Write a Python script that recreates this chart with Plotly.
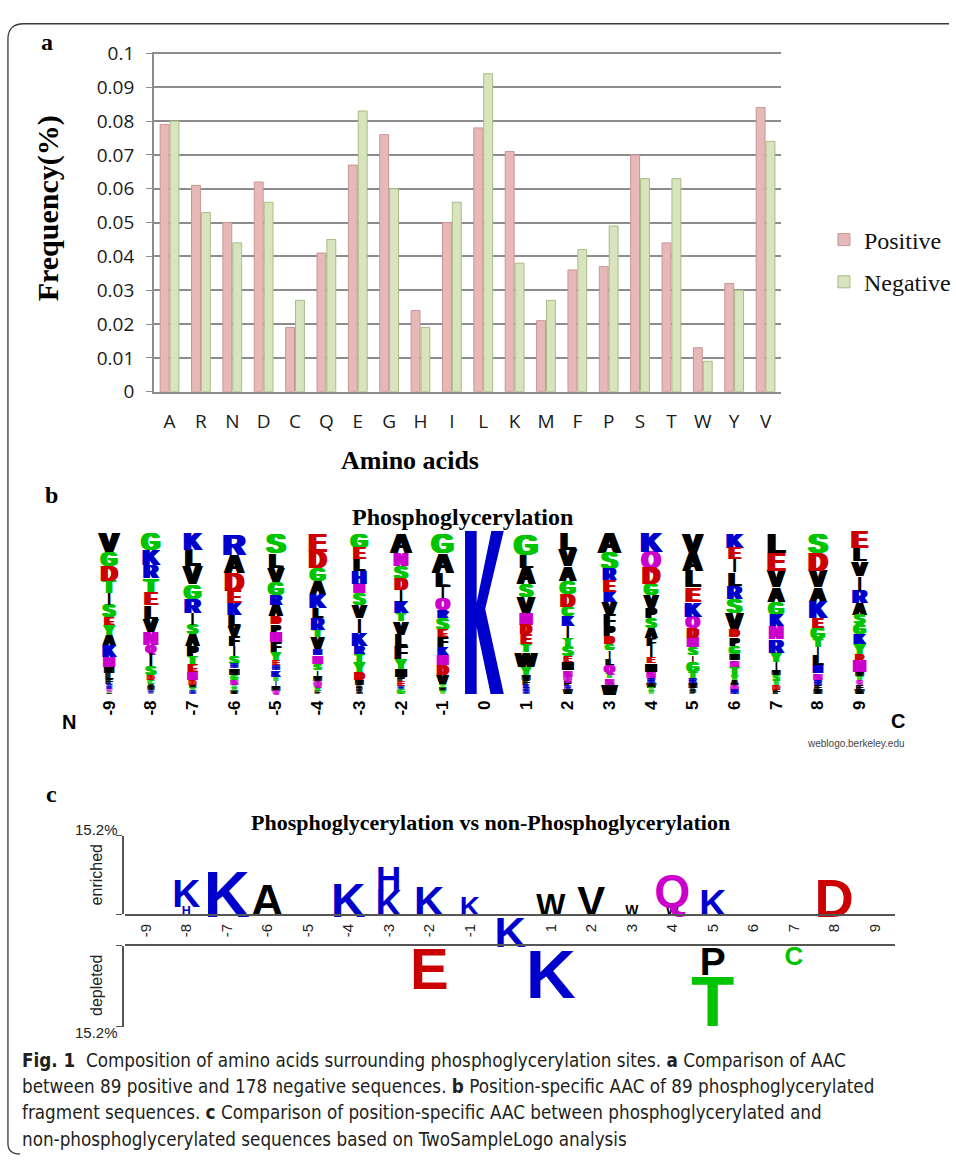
import plotly.graph_objects as go

W, H = 956, 1168


def fx(px):
    return px / W


def fy(py):
    return 1 - py / H


# ---------------- Panel a : amino acid composition ----------------
amino_acids = ["A", "R", "N", "D", "C", "Q", "E", "G", "H", "I",
               "L", "K", "M", "F", "P", "S", "T", "W", "Y", "V"]
positive_freq = [0.079, 0.061, 0.050, 0.062, 0.019, 0.041, 0.067, 0.076, 0.024, 0.050,
                 0.078, 0.071, 0.021, 0.036, 0.037, 0.070, 0.044, 0.013, 0.032, 0.084]
negative_freq = [0.080, 0.053, 0.044, 0.056, 0.027, 0.045, 0.083, 0.060, 0.019, 0.056,
                 0.094, 0.038, 0.027, 0.042, 0.049, 0.063, 0.063, 0.009, 0.030, 0.074]
freq_ticks = [0, 0.01, 0.02, 0.03, 0.04, 0.05, 0.06, 0.07, 0.08, 0.09, 0.1]
freq_tick_text = ["0", "0.01", "0.02", "0.03", "0.04", "0.05", "0.06", "0.07", "0.08", "0.09", "0.1"]

# ---------------- Panel b : frequency logo (letters listed top -> bottom) ----------------
logo_positions = list(range(-9, 10))
logo_tick_text = [str(p) for p in logo_positions]

col_m9_letters = "VGDTISEYAKNMLFHRQCW"
col_m9_freq = [.121, .087, .095, .075, .073, .075, .050, .061, .061, .071, .061, .040, .035, .030, .015, .015, .015, .010, .010]
col_m8_letters = "GKRTELVNQISDCAMHF"
col_m8_freq = [.100, .095, .081, .090, .077, .081, .081, .081, .048, .081, .056, .030, .025, .020, .020, .015, .010]
col_m7_letters = "KLVGRISAPTENDMYH"
col_m7_freq = [.10, .10, .11, .09, .09, .07, .06, .07, .06, .05, .05, .05, .03, .02, .02, .02]
col_m6_letters = "RADEKLVFISHMGNTYW"
col_m6_freq = [.13, .11, .11, .08, .07, .07, .06, .06, .06, .05, .03, .04, .03, .03, .02, .02, .02]
col_m5_letters = "SLVGRADPNFYEHKTIMQ"
col_m5_freq = [.12, .09, .09, .08, .06, .07, .05, .05, .06, .06, .05, .03, .03, .04, .03, .03, .03, .02]
col_m4_letters = "EDGAKLRTVHNSIMQYF"
col_m4_freq = [.11, .10, .08, .08, .09, .06, .07, .05, .07, .04, .05, .04, .04, .03, .03, .03, .02]
col_m3_letters = "GELHNSVIKRTYDMFPA"
col_m3_freq = [.09, .07, .07, .08, .06, .07, .08, .09, .08, .05, .05, .06, .05, .03, .02, .02, .02]
col_m2_letters = "ANSDIKTVLFYMPERG"
col_m2_freq = [.12, .08, .08, .07, .07, .07, .05, .08, .07, .08, .06, .05, .03, .03, .02, .03]
col_m1_letters = "GALIQRSEFKNDVTMY"
col_m1_freq = [.12, .12, .09, .07, .07, .05, .07, .05, .06, .05, .06, .06, .06, .02, .02, .02]
col_0_letters = "K"
col_0_freq = [1.0]
col_p1_letters = "GLASVNDETWYMFKRH"
col_p1_freq = [.13, .08, .10, .08, .10, .07, .06, .06, .05, .09, .05, .03, .03, .02, .02, .02]
col_p2_letters = "LVAGDCKITSEMNQPHW"
col_p2_freq = [.10, .10, .09, .08, .08, .06, .06, .07, .05, .06, .04, .05, .04, .03, .03, .02, .03]
col_p3_letters = "ASREKVFPDGILQTNW"
col_p3_freq = [.13, .10, .07, .07, .06, .08, .07, .06, .05, .04, .05, .04, .05, .03, .04, .06]
col_p4_letters = "KQDGVPSAFIEMNRWTY"
col_p4_freq = [.12, .10, .10, .07, .08, .06, .06, .06, .05, .07, .04, .05, .04, .03, .03, .02, .02]
col_p5_letters = "VALEKQDNSIGTRMFP"
col_p5_freq = [.12, .11, .10, .09, .09, .07, .06, .06, .05, .04, .06, .04, .03, .03, .02, .02]
col_p6_letters = "KEILRSVDPGMNTYAQH"
col_p6_freq = [.09, .07, .08, .08, .08, .09, .10, .05, .05, .05, .04, .04, .05, .03, .03, .03, .03]
col_p7_letters = "LEVAGKNRYIMSTDF"
col_p7_freq = [.12, .11, .10, .09, .08, .07, .08, .08, .06, .05, .03, .03, .03, .03, .03]
col_p8_letters = "SDVAKEGTILHNRFM"
col_p8_freq = [.12, .11, .10, .09, .10, .06, .07, .05, .05, .06, .05, .04, .03, .03, .03]
col_p9_letters = "ELVIRASGKYDNMTQFW"
col_p9_freq = [.10, .08, .09, .09, .08, .07, .06, .06, .06, .06, .04, .07, .03, .03, .02, .03, .03]

logo_letters = [col_m9_letters, col_m8_letters, col_m7_letters, col_m6_letters, col_m5_letters,
                col_m4_letters, col_m3_letters, col_m2_letters, col_m1_letters, col_0_letters,
                col_p1_letters, col_p2_letters, col_p3_letters, col_p4_letters, col_p5_letters,
                col_p6_letters, col_p7_letters, col_p8_letters, col_p9_letters]
logo_freqs = [col_m9_freq, col_m8_freq, col_m7_freq, col_m6_freq, col_m5_freq,
              col_m4_freq, col_m3_freq, col_m2_freq, col_m1_freq, col_0_freq,
              col_p1_freq, col_p2_freq, col_p3_freq, col_p4_freq, col_p5_freq,
              col_p6_freq, col_p7_freq, col_p8_freq, col_p9_freq]

# ---------------- Panel c : two-sample logo (percent) ----------------
c_positions = [p for p in range(-9, 10) if p != 0]
c_tick_text = [str(p) for p in c_positions]
enriched_pos = [-8, -8, -7, -6, -4, -3, -3, -2, -1, 1, 2, 3, 4, 4, 5, 8]      # bottom -> top
enriched_letter = ["H", "K", "K", "A", "K", "K", "H", "K", "K", "W", "V", "W", "W", "Q", "K", "D"]
enriched_pct = [1.7, 5.3, 8.7, 6.1, 6.5, 4.9, 4.75, 5.7, 3.8, 4.2, 5.7, 1.9, 1.9, 6.3, 5.1, 7.4]
depleted_pos = [-2, 1, 5, 5, 7]                                                    # top -> bottom
depleted_letter = ["E", "K", "P", "T", "C"]
depleted_pct = [7.6, 9.1, 5.1, 9.3, 3.4]
center_letter = "K"
center_pct = 5.9
scale_max = 15.2

# ---------------- styling ----------------
GREEN, BLUE, RED, MAG, BLK = "#00C400", "#0000CC", "#CC0000", "#CC00CC", "#000000"
AA_COLOR = {}
for a in "GSTYC":
    AA_COLOR[a] = GREEN
for a in "NQ":
    AA_COLOR[a] = MAG
for a in "KRH":
    AA_COLOR[a] = BLUE
for a in "DE":
    AA_COLOR[a] = RED
for a in "AVLIPWFM":
    AA_COLOR[a] = BLK
# approximate glyph advance (em) of Arial Bold capitals
ADV = dict(A=.722, C=.722, D=.722, E=.667, F=.611, G=.778, H=.722, I=.278, K=.722, L=.611,
           M=.833, N=.722, P=.667, Q=.778, R=.722, S=.667, T=.611, V=.667, W=.944, Y=.667)

ARIAL = "Liberation Sans, Arial, sans-serif"
TIMES = "Liberation Serif, Times New Roman, serif"
TICKF = "Open Sans, Liberation Sans, sans-serif"
CAP = 0.716  # cap height / font size

# geometry of axes (pixels)
A_X0, A_X1, A_Y0, A_Y1 = 155, 787, 388, 41
B_X0, B_X1, B_Y0, B_Y1 = 89, 887, 697, 530
C_X0, C_X1 = 126.4, 901.6
C_ENR_Y0, C_ENR_Y1 = 922, 842
C_DEP_Y0, C_DEP_Y1 = 954, 1037

fig = go.Figure()

# Panel a bars
fig.add_trace(go.Bar(x=amino_acids, y=positive_freq, name="Positive",
                     marker=dict(color="#E6B9B8", line=dict(color="#C99594", width=1)),
                     xaxis="x", yaxis="y", legendgroup="p"))
fig.add_trace(go.Bar(x=amino_acids, y=negative_freq, name="Negative",
                     marker=dict(color="#D7E4BD", line=dict(color="#A9BC85", width=1)),
                     xaxis="x", yaxis="y", legendgroup="n"))


def add_letters(items, xa, ya, target_w, max_widen):
    """items: (x, y_top, letter, font_px). Narrow letters get a slight same-colour
    horizontal text shadow so they fill a little more of the column."""
    groups = {}
    for x, y, letter, fs in items:
        gw = fs * ADV[letter] * 0.92
        s = 0 if letter == "I" else int(min(max_widen, round(max(0.0, (target_w - gw) / 6.0))))
        key = (AA_COLOR[letter], s)
        groups.setdefault(key, []).append((x, y, letter, max(fs, 1)))
    for (col, s), pts in groups.items():
        shadow = "none"
        if s > 0:
            shadow = ", ".join(f"{k}px 0 0 {col}, -{k}px 0 0 {col}" for k in range(1, s + 1))
        fig.add_trace(go.Scatter(
            x=[p[0] for p in pts], y=[p[1] for p in pts], text=[p[2] for p in pts],
            mode="text", textposition="bottom center",
            textfont=dict(family=ARIAL, size=[p[3] for p in pts], color=col,
                          weight="bold", shadow=shadow),
            xaxis=xa, yaxis=ya, showlegend=False, hoverinfo="skip", cliponaxis=False))


# Panel b letters
b_px_per_unit = (B_Y0 - B_Y1) / 1.0
b_col_px = (B_X1 - B_X0) / 19.0
b_items = []
shapes = []
K_GLYPH = [(0, 0), (0, 1), (0.3, 1), (0.3, 0.56), (0.68, 1), (1, 1), (0.52, 0.52),
           (1, 0), (0.66, 0), (0.34, 0.36), (0.3, 0.41), (0.3, 0)]
for pos, letters, freqs in zip(logo_positions, logo_letters, logo_freqs):
    cum = 0.0
    for letter, f in zip(reversed(letters), reversed(freqs)):
        top = cum + f
        fs = f * b_px_per_unit / CAP
        if letter == "K" and fs * 0.72 > b_col_px:
            w = 0.93
            pts = [(pos - w / 2 + u * w, cum + v * f) for u, v in K_GLYPH]
            path = "M " + " L ".join(f"{x:.4f},{y:.4f}" for x, y in pts) + " Z"
            shapes.append(dict(type="path", xref="x2", yref="y2", path=path,
                               fillcolor=AA_COLOR[letter], line=dict(width=0)))
        else:
            b_items.append((pos, top, letter, fs))
        cum = top
add_letters(b_items, "x2", "y2", 36, 2)

# Panel c enriched letters (stack upward) + central residue
c_enr_px = (C_ENR_Y0 - C_ENR_Y1) / scale_max
c_items = []
cum_pos = {}
for pos, letter, pct in zip(enriched_pos, enriched_letter, enriched_pct):
    top = cum_pos.get(pos, 0.0) + pct
    c_items.append((pos, top, letter, pct * c_enr_px / CAP))
    cum_pos[pos] = top
c_items.append((0, 0, center_letter, center_pct * c_enr_px / CAP))
add_letters(c_items, "x3", "y3", 36, 0)

# Panel c depleted letters (stack downward)
c_dep_px = (C_DEP_Y1 - C_DEP_Y0) / scale_max
d_items = []
cum_pos = {}
for pos, letter, pct in zip(depleted_pos, depleted_letter, depleted_pct):
    top = cum_pos.get(pos, 0.0)
    d_items.append((pos, top, letter, pct * c_dep_px / CAP))
    cum_pos[pos] = top + pct
add_letters(d_items, "x4", "y4", 36, 0)

# frame around the figure
frame = (f"M 1.0,{fy(12)} L {fx(24)},{fy(12)} Q {fx(8)},{fy(12)} {fx(8)},{fy(28)} "
         f"L {fx(8)},{fy(1156)} Q {fx(8)},{fy(1167)} {fx(20)},{fy(1167)}")
shapes.append(dict(type="path", xref="paper", yref="paper", path=frame,
                   line=dict(color="#3a3a3a", width=1.3)))

annotations = []


def ann(text, x, y, size, family=ARIAL, color="#000", angle=0, xanchor="center", yanchor="middle"):
    annotations.append(dict(text=text, x=fx(x), y=fy(y), xref="paper", yref="paper",
                            showarrow=False, textangle=angle, xanchor=xanchor, yanchor=yanchor,
                            font=dict(size=size, family=family, color=color)))


# Panel a texts
ann("<b>a</b>", 47, 31, 24, TIMES)
ann("<b>Frequency(%)</b>", 48, 201, 30, TIMES, angle=-90)
ann("<b>Amino acids</b>", 413, 458, 26, TIMES)
# Panel b texts
ann("<b>b</b>", 52, 494, 24, TIMES)
ann("<b>Phosphoglycerylation</b>", 466, 516, 24, TIMES)
ann("<b>N</b>", 70, 726, 20, ARIAL)
ann("<b>C</b>", 905, 724, 20, ARIAL)
ann("weblogo.berkeley.edu", 862, 748, 10, ARIAL, color="#444")
# Panel c texts
ann("<b>c</b>", 52, 799, 24, TIMES)
ann("<b>Phosphoglycerylation vs non-Phosphoglycerylation</b>", 494, 828, 22, TIMES)
ann("15.2%", 97, 835, 15, ARIAL, color="#222")
ann("15.2%", 97, 1043, 15, ARIAL, color="#222")
ann("enriched", 97, 882, 16, ARIAL, color="#222", angle=-90)
ann("depleted", 97, 995, 16, ARIAL, color="#222", angle=-90)
# Caption
CAPF = "DejaVu Sans Condensed, Liberation Sans Narrow, Liberation Sans, sans-serif"
caption_lines = [
    "<b>Fig. 1</b>\u00a0\u00a0Composition of amino acids surrounding phosphoglycerylation sites. <b>a</b> Comparison of AAC",
    "between 89 positive and 178 negative sequences. <b>b</b> Position-specific AAC of 89 phosphoglycerylated",
    "fragment sequences. <b>c</b> Comparison of position-specific AAC between phosphoglycerylated and",
    "non-phosphoglycerylated sequences based on TwoSampleLogo analysis",
]
for i, line in enumerate(caption_lines):
    ann(line, 20, 1071 + 27 * i, 18.7, CAPF, color="#231F20", xanchor="left")

GRID = "#8c8c8c"
fig.update_layout(
    width=W, height=H, margin=dict(l=0, r=0, t=0, b=0),
    paper_bgcolor="white", plot_bgcolor="rgba(0,0,0,0)",
    barmode="group", bargap=0.37, bargroupgap=0.1,
    showlegend=True,
    legend=dict(x=fx(830), y=fy(210), xanchor="left", yanchor="top",
                font=dict(family=TIMES, size=24, color="#111"),
                bgcolor="rgba(0,0,0,0)", traceorder="grouped", tracegroupgap=8,
                itemwidth=30),
    xaxis=dict(domain=[fx(A_X0), fx(A_X1)], anchor="y", showline=True, linecolor=GRID,
               linewidth=1.5, ticks="", showgrid=False,
               tickfont=dict(family=TICKF, size=19, color="#1a1a1a"), ticklabelstandoff=12),
    yaxis=dict(domain=[fy(A_Y0), fy(A_Y1)], anchor="x", range=[0, 0.1004],
               tickvals=freq_ticks, ticktext=freq_tick_text, showgrid=True, gridcolor=GRID,
               gridwidth=1.5, showline=True, linecolor=GRID, linewidth=1.5, ticks="outside",
               ticklen=6, tickcolor=GRID, zeroline=False,
               tickfont=dict(family=TICKF, size=19, color="#1a1a1a"), ticklabelstandoff=8),
    xaxis2=dict(domain=[fx(B_X0), fx(B_X1)], anchor="y2", range=[-9.5, 9.5],
                tickvals=logo_positions, ticktext=logo_tick_text, tickangle=-90,
                tickfont=dict(family=ARIAL, size=17, color="#000", weight="bold"),
                showline=False, showgrid=False, zeroline=False, ticks="", ticklabelstandoff=2),
    yaxis2=dict(domain=[fy(B_Y0), fy(B_Y1)], anchor="x2", range=[0, 1], visible=False),
    xaxis3=dict(domain=[fx(C_X0), fx(C_X1)], anchor="y3", range=[-9.5, 9.5],
                tickvals=c_positions, ticktext=c_tick_text, tickangle=-90,
                tickfont=dict(family=ARIAL, size=15, color="#222"),
                showline=True, linecolor="#555", linewidth=1.5, showgrid=False,
                zeroline=False, ticks="", ticklabelstandoff=2),
    yaxis3=dict(domain=[fy(C_ENR_Y0), fy(C_ENR_Y1)], anchor="free", position=fx(124),
                range=[0, scale_max], showline=True, linecolor="#555", linewidth=1.5,
                ticks="outside", tickvals=[0, scale_max], ticklen=6, tickcolor="#555",
                showticklabels=False, showgrid=False, zeroline=False),
    xaxis4=dict(domain=[fx(C_X0), fx(C_X1)], anchor="y4", side="top", range=[-9.5, 9.5],
                showline=True, linecolor="#555", linewidth=1.5, showticklabels=False,
                ticks="", showgrid=False, zeroline=False),
    yaxis4=dict(domain=[fy(C_DEP_Y1), fy(C_DEP_Y0)], anchor="free", position=fx(124),
                range=[scale_max, 0], showline=True, linecolor="#555", linewidth=1.5,
                ticks="outside", tickvals=[0, scale_max], ticklen=6, tickcolor="#555",
                showticklabels=False, showgrid=False, zeroline=False),
    shapes=shapes,
    annotations=annotations,
)

fig.write_html("out.html")
